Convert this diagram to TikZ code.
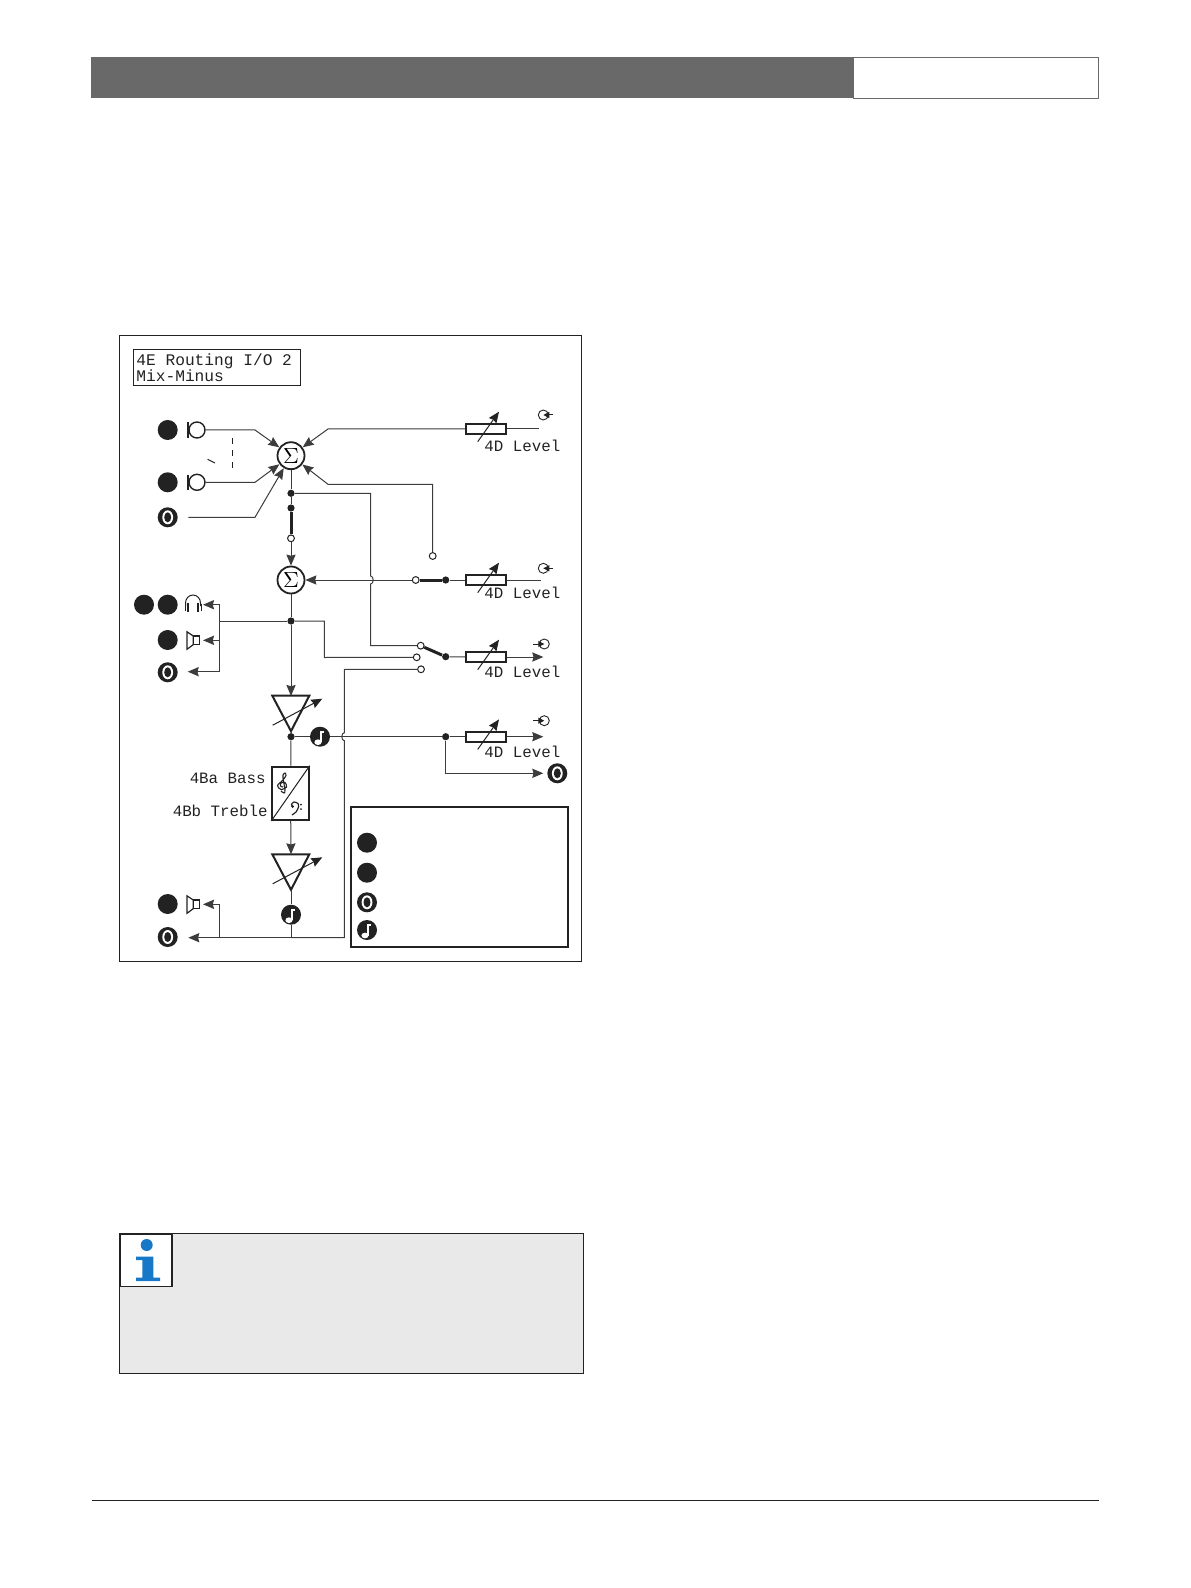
\documentclass[tikz,border=0pt]{standalone}
\usepackage{fontspec}
\setmonofont{Liberation Mono}
\usetikzlibrary{arrows.meta}
\definecolor{ink}{HTML}{222222}
\definecolor{wirec}{HTML}{3C3C3C}
\definecolor{barc}{HTML}{696969}
\definecolor{notec}{HTML}{E9E9E9}
\definecolor{infoc}{HTML}{1878C8}
\tikzset{
wire/.style={draw=wirec, line width=.5pt},
thickwire/.style={draw=ink, line width=1.5pt},
blk/.style={circle, fill=ink, minimum size=10pt, inner sep=0pt},
outsym/.style={blk, path picture={\begin{scope}[shift={(path picture bounding box.center)}]
\fill[white](0,0)ellipse(5.4 and 7);\fill[ink](0,0)ellipse(3.5 and 5);\end{scope}}},
notesym/.style={blk, path picture={\begin{scope}[shift={(path picture bounding box.center)}]
\fill[white](-2,5.5)ellipse(3.6 and 2.8);\draw[white, line width=.8pt](1.2,5.5)--(1.2,-5)--(4,-5);\end{scope}}},
dot/.style={circle, fill=ink, minimum size=3.6pt, inner sep=0pt},
opn/.style={circle, draw=ink, fill=white, line width=.5pt, minimum size=3.4pt, inner sep=0pt},
sum/.style={circle, draw=ink, fill=white, line width=.9pt, minimum size=13.5pt, inner sep=0pt, font=\fontsize{11}{11}\selectfont},
micsym/.style={circle, draw=ink, fill=white, line width=.7pt, minimum size=8pt, inner sep=0pt},
port/.style={circle, draw=ink, line width=.45pt, minimum size=5pt, inner sep=0pt},
res/.style={rectangle, draw=ink, fill=white, line width=1pt, minimum width=20pt, minimum height=5.2pt, inner sep=0pt},
lcd/.style={font=\ttfamily\fontsize{7.9}{7.9}\selectfont, text=ink, inner sep=0pt},
lcdtitle/.style={font=\ttfamily\fontsize{8.1}{8.1}\selectfont, text=ink, inner sep=0pt},
}
\begin{document}
\begin{tikzpicture}[>={Stealth[length=5.5pt,width=4.6pt,inset=.6pt]}, x=.5pt, y=-.5pt]
\useasboundingbox(0,0)rectangle(1190,1588);
\fill[barc](91,57.5)rectangle(853.5,98.5);
\draw[barc, line width=.5pt](853.5,57.5)rectangle(1098.5,98.5);
\draw[ink, line width=.5pt](92,1500)--(1099,1500);
\draw[ink, line width=.5pt](119.5,336)rectangle(581.5,961);
\node (title)[draw=ink, line width=.5pt, minimum width=83.5pt, minimum height=18pt, inner sep=0pt] at(216.7,368){};
\node[lcdtitle, anchor=west] at(136,361){4E Routing I/O 2};
\node[lcdtitle, anchor=west] at(136,376){Mix-Minus};
\foreach \n/\x/\y in {ma/167.7/430, mb/167.7/482.3, ha/144/604.7, hb/167.7/604.7, sa/167.7/640, sb/167.7/904,
la/367/842.7, lb/367/872.7}
\node (\n)[blk] at(\x,\y){};
\foreach \n/\x/\y in {oa/167.7/517.3, ob/167.7/672.3, oc/167.7/937, od/557.3/773.3, le/367/902.3}
\node (\n)[outsym] at(\x,\y){};
\foreach \n/\x/\y in {na/320/736.7, nb/291/914.7, lf/367/930}
\node (\n)[notesym] at(\x,\y){};
\foreach \n/\y in {mica/430, micb/482.3}{
\node (\n)[micsym] at(197,\y){};
\draw[ink, line width=1.1pt](\n.west)++(0,-7.7)--++(0,15.4);
}
\node (siga)[sum] at(291,455.7){$\Sigma$};
\node (sigb)[sum] at(291,580){$\Sigma$};
\foreach \n/\x/\y in {da/291/493.3, db/291/508, dc/445.7/580, dd/291/621, de/445.7/656.7, df/291/736.7, dg/445.7/736.7}
\node (\n)[dot] at(\x,\y){};
\foreach \n/\x/\y in {ca/291/538.3, cb/432.7/556, cc/415.7/580, cd/420.7/645.7, ce/416.7/657.3, cf/421/669.3}
\node (\n)[opn] at(\x,\y){};
\foreach \n/\y/\t in {ra/429/446, rb/580/593.3, rc/657/671.7, rd/736.7/751.7}{
\node (\n)[res] at(486,\y){};
\draw[ink, line width=.5pt, ->](477.7,\y+12.7)--(499,\y-17.3);
\node[lcd, anchor=west] at(484,\t){4D Level};
}
\foreach \n/\x/\y in {pa/543.3/415, pb/543.3/568.3, pc/544.3/644, pd/544.3/720.7}
\node (\n)[port] at(\x,\y){};
\foreach \n in {pa,pb}{
\draw[ink, line width=.5pt, -{Stealth[length=3pt,width=3pt,inset=0pt]}](\n.center)++(9.5,0)--(\n.center);
}
\foreach \n in {pc,pd}{
\draw[ink, line width=.5pt, -{Stealth[length=3pt,width=3pt,inset=0pt]}](\n.center)++(-11,0)--(\n.center);
}
\draw[wire,->](mica)--(255,430)--(siga);
\draw[wire,->](micb)--(255,482.3)--(siga);
\draw[wire,->](188.3,517.3)--(255,517.3)--(siga);
\draw[ink, line width=.5pt, dashed](232.3,438)--(232.3,472);
\draw[ink, line width=.5pt](207.7,459.3)--(215,463);
\draw[wire,->](ra.west)--(328,429)--(siga);
\draw[wire,->](cb)--(432.7,484.3)--(328,484.3)--(siga);
\draw[wire](ra.east)--(539,429);
\draw[wire](rb.east)--(541,580);
\draw[wire,->](rc.east)--(543.3,657);
\draw[wire,->](rd.east)--(543.3,736.7);
\draw[wire](siga)--(da);
\draw[wire](da)--(db);
\draw[thickwire](db)--(ca);
\draw[wire,->](ca)--(sigb);
\draw[wire](da)--(370.7,493.3)--(370.7,576) arc(-90:90:2.5 and 4)--(370.7,645.7)--(cd);
\draw[wire,->](cc)--(sigb);
\draw[thickwire](cc)--(dc);
\draw[wire](dc)--(rb.west);
\draw[thickwire](cd)--(de);
\draw[wire](de)--(rc.west);
\draw[wire](sigb)--(dd);
\draw[wire](dd)--(219.3,621);
\draw[wire,->](219.3,621)--(219.3,604.7)--(203,604.7);
\draw[wire,->](219.3,621)--(219.3,671.7)--(187.7,671.7);
\draw[wire,->](219.3,640.3)--(203,640.3);
\draw[wire](dd)--(324.3,621)--(324.3,657.5)--(ce);
\draw[wire](cf)--(344.3,669.3)--(344.3,732.7) arc(-90:-270:2.5 and 4)--(344.3,937.7)--(291,937.7);
\draw[wire,->](291,937.7)--(188.3,937.7);
\draw[wire,->](219.3,937.7)--(219.3,904.3)--(203,904.3);
\draw[wire](nb)--(291,937.7);
\draw[wire,->](dd)--(291,696);
\draw[wire](df)--(na);
\draw[wire](na)--(dg);
\draw[wire](dg)--(rd.west);
\draw[wire,->](dg)--(445.7,773.3)--(543.3,773.3);
\foreach \n/\y in {ampa/695.7, ampb/854.3}{
\draw[ink, line width=1pt, line join=miter](272.3,\y)--(309.3,\y)--(291,\y+35.5)--cycle;
\coordinate (\n) at(291,\y);
\coordinate (\n tip) at(291,\y+35.5);
\draw[ink, line width=.5pt, ->](272.7,\y+29.5)--(322.3,\y+3);
}
\draw[wire](ampatip)--(df);
\node (eq)[draw=ink, line width=1pt, minimum width=18.2pt, minimum height=26.6pt, inner sep=0pt] at(290.5,793.3){};
\draw[ink, line width=.5pt](eq.south west)--(eq.north east);
\draw[wire](df)--(eq);
\draw[wire,->](eq)--(ampb);
\draw[wire](ampbtip)--(nb);
\draw[ink, line width=.55pt] plot[smooth] coordinates{(281,791)(284,793)(285,790)(283,778)(283,775)(285,773)(286,775.5)(283,780)(277.5,785.5)(281,789.5)(286.5,787)(285,782.5)(281,783)(280.5,786)(283,787)};
\draw[ink, line width=.6pt] plot[smooth] coordinates{(292.7,806.5)(291.5,804.5)(294,802)(298,803.5)(298.5,807)(296,812)(292,815)};
\fill[ink](292.7,806.5)circle(1.5);
\fill[ink](301,804.5)circle(1);
\fill[ink](301,809)circle(1);
\node[lcd, anchor=east] at(266,778){4Ba Bass};
\node[lcd, anchor=east] at(268,810.7){4Bb Treble};
\draw[ink, line width=.5pt](185.5,606)--(185.5,603) arc(180:360:7.5 and 8)--(200.5,606);
\draw[ink, line width=1.1pt](188,603)--(188,612);
\draw[ink, line width=1.1pt](198,603)--(198,612);
\draw[ink, line width=.5pt](185,604)--(185,611);
\draw[ink, line width=.5pt](201,604)--(201,611);
\foreach \y in {640.3, 904.3}{
\draw[ink, line width=.6pt](187,\y-8.5)--(193.3,\y-4.3)--(193.3,\y+4.3)--(187,\y+9)--cycle;
\draw[ink, line width=.6pt](193.3,\y-4.3)rectangle(199.3,\y+4.3);
}
\draw[ink, line width=1.2pt](350.7,806.7)rectangle(567.7,946.7);
\fill[notec](119.5,1233.5)rectangle(583.5,1373.5);
\draw[ink, line width=.5pt](119.5,1233.5)rectangle(583.5,1373.5);
\node (info)[draw=ink, fill=white, line width=.8pt, minimum size=26pt, inner sep=0pt] at(146,1260.5){};
\fill[infoc](146.7,1245)circle(6);
\fill[infoc](136,1256.7)--(153.3,1256.7)--(153.3,1277.7)--(160,1277.7)--(160,1281)--(136,1281)--(136,1277.7)--(142.3,1277.7)--(142.3,1260)--(136,1260)--cycle;
\end{tikzpicture}
\end{document}
